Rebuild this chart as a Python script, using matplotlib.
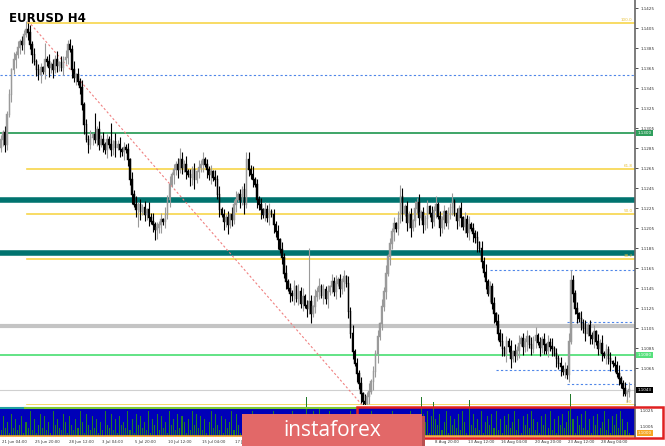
import numpy as np
import matplotlib.pyplot as plt
from matplotlib.patches import Rectangle
from matplotlib.lines import Line2D

# close prices in pips above 1.1000, one value per H4 bar
closes = [293, 300, 288, 318, 338, 363, 373, 378,
          385, 391, 388, 398, 403, 400,
          388, 378, 371, 363, 358, 365, 361, 373,
          371, 365, 368, 363, 373, 367, 370, 365, 373, 375, 388, 383,
          363, 355, 358, 351, 345, 328, 308,
          293, 288, 295, 298, 293, 303, 288, 293,
          288, 283, 293, 288, 283, 291, 285, 288, 283, 281, 285, 283, 273,
          253, 238, 228, 223, 228, 221, 225, 218, 223,
          215, 211, 208, 203, 205, 208, 213, 211, 218,
          233, 248, 258, 263, 268, 263, 273, 265, 268, 261,
          258, 255, 263, 253, 261, 265, 268, 273, 268,
          263, 258, 261, 255, 253, 238, 223, 218,
          211, 215, 208, 218, 213, 228, 233, 238, 233, 243, 228,
          273, 263, 258, 253, 248, 233, 228, 223,
          218, 223, 215, 221, 218, 208, 201, 193, 183, 175,
          159, 151, 144, 139, 137, 146, 134, 141, 129,
          136, 127, 124, 131, 119, 126, 136,
          141, 146, 137, 143, 134, 141, 146, 151, 141, 149, 153, 144, 151, 156, 149,
          121, 99, 81, 69, 59, 49, 39,
          31, 29, 36, 41, 51,
          61, 79, 96, 109, 126, 141, 159,
          176, 189, 201, 209, 204,
          214, 236, 219,
          226, 210, 218, 205, 212, 224, 230, 215, 220, 208, 214, 226, 219, 211, 222, 228,
          216, 205, 213, 221, 210, 218, 225, 231, 219, 212, 224, 215, 206, 213, 200, 208,
          204, 199, 195, 190, 184, 171, 160,
          151, 139, 146, 129, 119, 111, 99,
          91, 84, 79, 91, 86, 74, 81, 77,
          82, 89, 94, 86, 91, 96, 88, 84, 92, 97, 90, 85, 93, 88, 82, 90, 86,
          84, 79, 74, 69, 66, 61, 63, 58,
          91, 152, 139, 124, 119,
          114, 109, 104, 99, 107, 97, 94, 101,
          91, 84, 89, 79, 77, 83, 74, 71, 69, 67,
          59, 54, 49, 44, 39, 41, 43]

# wick lengths in pips above / below the body, one digit per bar
upper_wicks = ("5374628473659284736527483659274836592748365827495836"
               "4729583647285936472859364728593647285936472859364728"
               "5936472859364728593647285936472859364728593647285936"
               "4728593647285936472859364728593647285936472859364728"
               "5936472859364728593647285936472859364728593647285936"
               "4728593647285936472859364728593647285934728593647")
lower_wicks = ("4635274836592748365827495836537462847365928473652748"
               "3659274836592748365827495836472958364728593647285936"
               "4728593647285936472859364728593647285936472859364728"
               "5936472859364728593647285936472859364728593647285936"
               "4728593647285936472859364728593647285936472859364728"
               "5936472859364728593647285936472859363647285936472")
# the long wicks that stand out (bar, price in pips)
long_highs = [(13, 410), (21, 390), (32, 393), (45, 320), (53, 310), (86, 285),
              (97, 281), (118, 281), (148, 185), (192, 248), (274, 163)]
long_lows = [(2, 281), (66, 206), (74, 193), (92, 248), (174, 27)]

volumes = ("2735183624715392614837251946328517426395184273615294"
           "3826174539261847352916482735194628375162948372615938"
           "4271635928417365291847362519473826159374826153947261"
           "8394725163849275136284917352648193726485193746285917"
           "3648259174638295174836291574839261748359261748396251"
           "7483926174835926174839261748359261748396251748392")
tall_volumes = [(147, 1.4), (153, 1.05), (202, 1.4), (208, 1.2), (225, 1.3), (274, 1.5)]

# date labels that are not hidden behind the logo (slot index, text)
date_labels = [(0, "21 Jun 04:00"), (1, "25 Jun 20:00"), (2, "28 Jun 12:00"),
               (3, "3 Jul 04:00"), (4, "5 Jul 20:00"), (5, "10 Jul 12:00"),
               (6, "15 Jul 04:00"), (7, "17 Jul 20:00"), (13, "8 Aug 20:00"),
               (14, "13 Aug 12:00"), (15, "16 Aug 04:00"), (16, "20 Aug 20:00"),
               (17, "23 Aug 12:00"), (18, "28 Aug 04:00")]

fib_levels = [1.1410, 1.1264, 1.1219, 1.1174, 1.1028]
fib_names = ["100.0", "61.8", "50.0", "38.2", "0.0"]
teal_levels = [1.1233, 1.1180]
green_level = 1.1300
lightgreen_level = 1.1078
gray_level = 1.1107
last_price = 1.1043

W, H = 665, 446


def px(x0, y0, x1, y1):
    return [x0 / W, 1 - y1 / H, (x1 - x0) / W, (y1 - y0) / H]


fig = plt.figure(figsize=(6.65, 4.46), dpi=100)
fig.patch.set_facecolor('white')
ax = fig.add_axes(px(0, 0, 635, 405))
vax = fig.add_axes(px(0, 408, 635, 436))

n = len(closes)
c = 1.1 + np.array(closes) / 10000
o = np.concatenate([[c[0] - 0.0008], c[:-1]])
up = np.array([int(d) for d in upper_wicks[:n]]) / 10000
dn = np.array([int(d) for d in lower_wicks[:n]]) / 10000
hi = np.maximum(o, c) + up
lo = np.minimum(o, c) - dn
for i, v in long_highs:
    hi[i] = 1.1 + v / 10000
for i, v in long_lows:
    lo[i] = 1.1 + v / 10000
x = np.arange(n)
bull = c >= o
cols = np.where(bull, '#9a9a9a', '#000000')

ax.vlines(x, lo, hi, colors=cols, lw=0.8, zorder=3)
ax.bar(x, np.abs(c - o) + 0.00006, bottom=np.minimum(o, c), width=0.75,
       color=cols, edgecolor=cols, lw=0.3, zorder=3)

# fibonacci levels start at the top bar
for lv, nm in zip(fib_levels, fib_names):
    ax.plot([12.5, 305], [lv, lv], color='#f7d54a', lw=1.2, zorder=2)
    ax.text(303.6, lv + 0.0001, nm, color='#e8c13a', fontsize=3.0, ha='right', va='bottom')
for lv in teal_levels:
    ax.axhline(lv, color='#00736f', lw=4, zorder=2)
ax.axhline(green_level, color='#2f9e5c', lw=1.3, zorder=2)
ax.axhline(lightgreen_level, color='#56e07c', lw=1.3, zorder=2)
ax.axhline(gray_level, color='#c4c4c4', lw=3, zorder=1)
ax.axhline(last_price, color='#d0d0d0', lw=0.8, zorder=1)
dot = dict(color='#4f86e8', lw=0.8, ls=(0, (2, 2)), zorder=1)
ax.axhline(1.1358, **dot)
ax.plot([235, 305], [1.1163, 1.1163], **dot)
ax.plot([272, 305], [1.1111, 1.1111], **dot)
ax.plot([238, 305], [1.1063, 1.1063], **dot)
ax.plot([272, 305], [1.1049, 1.1049], **dot)

# trend line from the top to the low
ax.plot([13, 174], [1.1412, 1.1027], color='#f08080', lw=0.8, ls=(0, (2, 2)), zorder=2)

ax.set_xlim(-0.5, 304.8)
ax.set_ylim(1.1028, 1.1433)
ax.yaxis.tick_right()
ticks = np.arange(1.1065, 1.1430, 0.0020)
ax.set_yticks(ticks)
ax.set_yticklabels(['%.4f' % t for t in ticks])
ax.tick_params(axis='y', labelsize=3.0, length=2, width=0.6, colors='#333333', pad=2)
ax.set_xticks([])
for s in ['top', 'left', 'bottom']:
    ax.spines[s].set_visible(False)
ax.spines['right'].set_color('#666666')
ax.spines['right'].set_linewidth(1.2)


# price tags on the axis
def tag(price, text, bg, fg='white'):
    ax.text(305.9, price, text, fontsize=3.0, color=fg, va='center', ha='left',
            bbox=dict(boxstyle='square,pad=0.3', fc=bg, ec='none'), clip_on=False)


tag(green_level, '1.1300', '#2f9e5c')
tag(lightgreen_level, '1.1080', '#56e07c')
tag(last_price, '1.1043', '#000000')

ax.text(4, 1.1421, 'EURUSD H4', fontsize=8.5, fontweight='bold', va='top')

# volume panel
vol = np.array([int(d) for d in volumes[:n]]) / 10
for i, v in tall_volumes:
    vol[i] = v
vax.set_facecolor('#0000b8')
vax.bar(x, vol, width=0.5, color='#237a2a', clip_on=False)
vax.set_xlim(-0.5, 304.8)
vax.set_ylim(0, 1.0)
vax.set_xticks([])
vax.set_yticks([])
for s in vax.spines.values():
    s.set_visible(False)

fig.add_artist(Line2D([0, 25 / W], [1 - 407.5 / H] * 2, color='#20a0a0', lw=1.5))
fig.add_artist(Line2D([25 / W, 357 / W], [1 - 407.5 / H] * 2, color='#7cc832', lw=1.5))
fig.add_artist(Line2D([0, 635 / W], [1 - 436 / H] * 2, color='#f0a030', lw=1.2))
fig.add_artist(Line2D([635 / W, 635 / W], [1 - 437 / H, 1 - 405 / H], color='#666666', lw=1.2))
fig.text(640 / W, 1 - 411 / H, '1.1025', fontsize=3.0, color='#333333', va='center')
fig.text(640 / W, 1 - 427 / H, '1.1005', fontsize=3.0, color='#333333', va='center')
fig.text(638 / W, 1 - 433 / H, '1.1000', fontsize=3.0, color='white', va='center',
         bbox=dict(boxstyle='square,pad=0.3', fc='#f5a623', ec='none'))

# date labels under the panel
for k, lab in date_labels:
    fig.text((2 + 33.3 * k) / W, 1 - 441.5 / H, lab, fontsize=2.8, color='#333333',
             va='center', zorder=0)

# red frame
fig.add_artist(Rectangle((357 / W, 1 - 438 / H), 306 / W, 31 / H, fill=False,
                         ec='#e02020', lw=1.8, transform=fig.transFigure, zorder=4))

# logo
fig.add_artist(Rectangle((245 / W, 0), 180 / W, 30 / H, fc='#b85050', ec='none',
                         transform=fig.transFigure, zorder=5))
fig.add_artist(Rectangle((242 / W, 0), 180 / W, 32 / H, fc='#e26868', ec='none',
                         transform=fig.transFigure, zorder=5))
fig.text(332 / W, 1 - 431 / H, 'instaforex', fontsize=15, color='white', ha='center',
         va='center', family='Open Sans', zorder=6)

fig.savefig('out.png', dpi=100)
